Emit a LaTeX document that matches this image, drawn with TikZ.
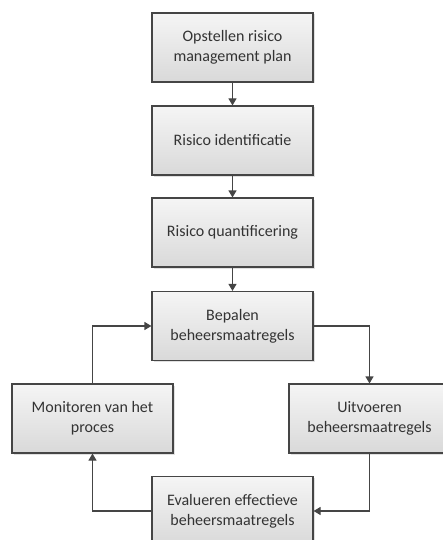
\documentclass[tikz,border=0pt]{standalone}
\usepackage{fontspec}
\setmainfont{Carlito}
\usetikzlibrary{arrows.meta,shadows}
\definecolor{edge}{HTML}{454545}
\definecolor{boxtop}{HTML}{F5F5F5}
\definecolor{boxbot}{HTML}{D9D9D9}
\definecolor{txt}{HTML}{333333}
\tikzset{
  stepbox/.style={draw=edge, line width=1.1pt, top color=boxtop, bottom color=boxbot,
    minimum width=161pt, minimum height=69pt, align=center, font=\fontsize{16pt}{20pt}\selectfont,
    text=txt, inner sep=0pt,
    drop shadow={shadow xshift=1.5pt, shadow yshift=-1.5pt, fill=black, opacity=0.12}},
  link/.style={draw=edge, line width=1.1pt, -{Triangle[length=7pt,width=8pt]}}
}
\begin{document}
\begin{tikzpicture}[x=1pt,y=-1pt]
\useasboundingbox (0,0) rectangle (443,540);
\node[stepbox] (a) at (232.5,47.5) {Opstellen risico\\management plan};
\node[stepbox] (b) at (232.5,140.5) {Risico identificatie};
\node[stepbox] (c) at (232.5,232.5) {Risico quantificering};
\node[stepbox] (d) at (232.5,326) {Bepalen\\beheersmaatregels};
\node[stepbox] (m) at (92.5,418.5) {Monitoren van het\\proces};
\node[stepbox] (u) at (369.5,418.5) {Uitvoeren\\beheersmaatregels};
\node[stepbox] (e) at (232.5,511) {Evalueren effectieve\\beheersmaatregels};
\draw[link] (a) -- (b);
\draw[link] (b) -- (c);
\draw[link] (c) -- (d);
\draw[link] (d.east) -| (u.north);
\draw[link] (u.south) |- (e.east);
\draw[link] (e.west) -| (m.south);
\draw[link] (m.north) |- (d.west);
\end{tikzpicture}
\end{document}
